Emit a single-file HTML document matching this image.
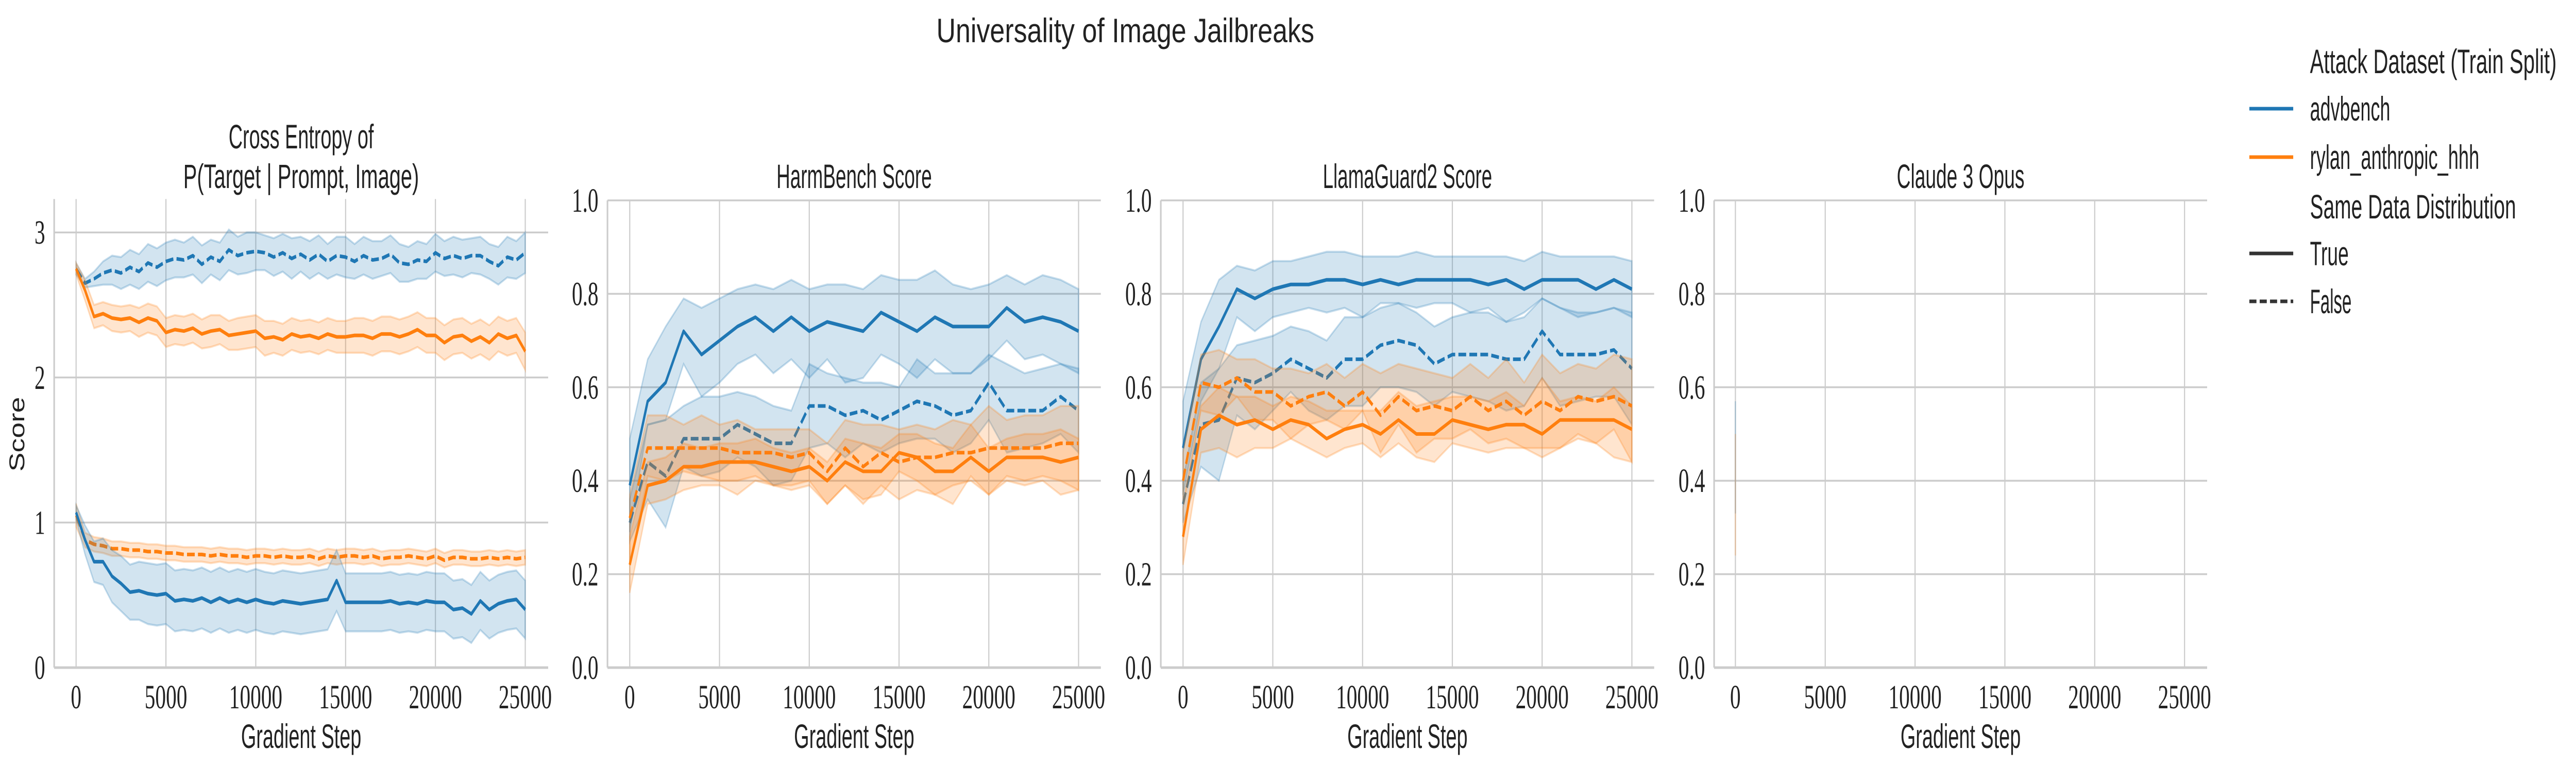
<!DOCTYPE html>
<html><head><meta charset="utf-8"><style>
html,body{margin:0;padding:0;background:#fff;overflow:hidden;width:100%;height:100%;}
svg{display:block;width:100vw;height:100vh;}
text{fill:#222;}
.tk{font-family:"Liberation Serif",serif;font-size:66px;}
.lb{font-family:"Liberation Sans Narrow","Liberation Sans",sans-serif;font-size:66px;}
</style></head><body>
<svg id="chart" viewBox="0 0 7989 1487" preserveAspectRatio="none" xmlns="http://www.w3.org/2000/svg">
<text x="3490" y="82" text-anchor="middle" class="lb" font-size="74" textLength="1172" lengthAdjust="spacingAndGlyphs">Universality of Image Jailbreaks</text>
<g>
<text x="7164" y="142" class="lb" textLength="765" lengthAdjust="spacingAndGlyphs">Attack Dataset (Train Split)</text>
<line x1="6976" y1="211" x2="7112" y2="211" stroke="#1f77b4" stroke-width="7"/>
<text x="7164" y="234" class="lb" textLength="249" lengthAdjust="spacingAndGlyphs">advbench</text>
<line x1="6976" y1="305" x2="7112" y2="305" stroke="#ff7f0e" stroke-width="7"/>
<text x="7164" y="328" class="lb" textLength="525" lengthAdjust="spacingAndGlyphs">rylan_anthropic_hhh</text>
<text x="7164" y="424" class="lb" textLength="639" lengthAdjust="spacingAndGlyphs">Same Data Distribution</text>
<line x1="6976" y1="492" x2="7112" y2="492" stroke="#333" stroke-width="7"/>
<text x="7164" y="515" class="lb" textLength="120" lengthAdjust="spacingAndGlyphs">True</text>
<line x1="6976" y1="585" x2="7112" y2="585" stroke="#333" stroke-width="7" stroke-dasharray="22,10"/>
<text x="7164" y="608" class="lb" textLength="129" lengthAdjust="spacingAndGlyphs">False</text>
</g>
</svg>
<script>
const steps51 = [];
for (let i = 0; i <= 50; i++) steps51.push(i * 500);
const steps26 = [];
for (let i = 0; i <= 25; i++) steps26.push(i * 1000);
const xTicks = [0, 5000, 10000, 15000, 20000, 25000];
const xTickLabels = ["0", "5000", "10000", "15000", "20000", "25000"];
const ceYTicks = [0, 1, 2, 3];
const ceYTickLabels = ["0", "1", "2", "3"];
const scoreYTicks = [0, 0.2, 0.4, 0.6, 0.8, 1.0];
const scoreYTickLabels = ["0.0", "0.2", "0.4", "0.6", "0.8", "1.0"];

// Panel 1: cross entropy
const ceAdvFalse = [2.75,2.65,2.68,2.72,2.74,2.72,2.76,2.73,2.79,2.76,2.80,2.82,2.81,2.84,2.78,2.83,2.80,2.88,2.84,2.86,2.87,2.86,2.83,2.86,2.82,2.85,2.81,2.85,2.80,2.84,2.83,2.80,2.84,2.81,2.82,2.85,2.79,2.78,2.81,2.80,2.86,2.82,2.84,2.82,2.84,2.84,2.80,2.77,2.83,2.81,2.86];
const ceAdvFalseCI = [0.04,0.03,0.05,0.08,0.10,0.11,0.12,0.12,0.13,0.13,0.13,0.13,0.12,0.13,0.13,0.12,0.13,0.14,0.13,0.14,0.13,0.12,0.13,0.13,0.14,0.12,0.13,0.13,0.12,0.13,0.14,0.12,0.13,0.13,0.12,0.13,0.13,0.12,0.13,0.12,0.13,0.12,0.13,0.13,0.12,0.13,0.12,0.13,0.14,0.13,0.14];
const ceRylTrue = [2.75,2.60,2.42,2.44,2.41,2.40,2.41,2.38,2.41,2.39,2.31,2.33,2.32,2.34,2.30,2.32,2.33,2.29,2.30,2.31,2.32,2.27,2.28,2.26,2.30,2.28,2.29,2.27,2.30,2.28,2.28,2.29,2.29,2.27,2.30,2.30,2.28,2.30,2.33,2.29,2.29,2.24,2.28,2.29,2.25,2.28,2.24,2.30,2.27,2.29,2.18];
const ceRylTrueCI = [0.04,0.07,0.08,0.08,0.09,0.09,0.09,0.10,0.10,0.10,0.10,0.10,0.10,0.10,0.10,0.11,0.10,0.10,0.11,0.11,0.11,0.12,0.11,0.11,0.11,0.11,0.11,0.11,0.11,0.11,0.11,0.12,0.12,0.12,0.12,0.12,0.12,0.12,0.12,0.12,0.12,0.12,0.12,0.12,0.12,0.12,0.12,0.12,0.12,0.12,0.13];
const ceRylFalse = [1.05,0.88,0.85,0.84,0.82,0.82,0.81,0.81,0.80,0.80,0.79,0.79,0.78,0.78,0.78,0.77,0.78,0.77,0.77,0.76,0.77,0.77,0.76,0.77,0.76,0.76,0.77,0.75,0.77,0.76,0.77,0.77,0.76,0.77,0.75,0.76,0.76,0.77,0.76,0.75,0.77,0.74,0.76,0.76,0.75,0.75,0.76,0.75,0.76,0.75,0.76];
const ceRylFalseCI = [0.08,0.05,0.05,0.05,0.05,0.05,0.05,0.05,0.05,0.05,0.05,0.05,0.05,0.05,0.05,0.05,0.05,0.05,0.05,0.05,0.05,0.05,0.05,0.05,0.05,0.05,0.05,0.05,0.05,0.05,0.05,0.05,0.05,0.05,0.05,0.05,0.05,0.05,0.05,0.05,0.05,0.05,0.05,0.05,0.05,0.05,0.05,0.05,0.05,0.05,0.05];
const ceAdvTrue = [1.07,0.88,0.73,0.73,0.63,0.58,0.52,0.53,0.51,0.50,0.51,0.46,0.47,0.46,0.48,0.45,0.48,0.45,0.47,0.45,0.47,0.45,0.44,0.46,0.45,0.44,0.45,0.46,0.47,0.60,0.45,0.45,0.45,0.45,0.45,0.46,0.44,0.45,0.44,0.46,0.45,0.45,0.40,0.41,0.37,0.46,0.40,0.44,0.46,0.47,0.40];
const ceAdvTrueCI = [0.05,0.10,0.14,0.16,0.18,0.19,0.19,0.20,0.21,0.21,0.21,0.21,0.21,0.21,0.21,0.21,0.21,0.21,0.21,0.21,0.21,0.21,0.21,0.21,0.21,0.21,0.21,0.21,0.21,0.21,0.20,0.20,0.20,0.20,0.20,0.20,0.20,0.20,0.20,0.20,0.20,0.20,0.20,0.20,0.20,0.20,0.20,0.20,0.20,0.20,0.20];

// Panel 2: HarmBench
const hbAdvTrue = [0.39,0.57,0.61,0.72,0.67,0.70,0.73,0.75,0.72,0.75,0.72,0.74,0.73,0.72,0.76,0.74,0.72,0.75,0.73,0.73,0.73,0.77,0.74,0.75,0.74,0.72];
const hbAdvTrueHi = [0.49,0.66,0.73,0.79,0.77,0.79,0.81,0.82,0.81,0.83,0.81,0.82,0.82,0.81,0.84,0.83,0.83,0.85,0.82,0.81,0.82,0.84,0.82,0.84,0.83,0.81];
const hbAdvTrueLo = [0.29,0.52,0.53,0.65,0.58,0.61,0.65,0.67,0.63,0.66,0.62,0.66,0.61,0.62,0.67,0.65,0.62,0.66,0.63,0.63,0.66,0.70,0.66,0.67,0.65,0.63];
const hbAdvFalse = [0.31,0.44,0.41,0.49,0.49,0.49,0.52,0.50,0.48,0.48,0.56,0.56,0.54,0.55,0.53,0.55,0.57,0.56,0.54,0.55,0.61,0.55,0.55,0.55,0.58,0.55];
const hbAdvFalseHi = [0.36,0.52,0.53,0.56,0.58,0.58,0.59,0.58,0.56,0.55,0.65,0.63,0.62,0.61,0.61,0.60,0.66,0.63,0.63,0.63,0.67,0.65,0.63,0.64,0.65,0.64];
const hbAdvFalseLo = [0.27,0.36,0.30,0.43,0.41,0.42,0.45,0.43,0.39,0.40,0.47,0.48,0.45,0.48,0.46,0.48,0.49,0.49,0.46,0.48,0.53,0.46,0.47,0.48,0.50,0.46];
const hbRylFalse = [0.32,0.47,0.47,0.47,0.47,0.47,0.46,0.46,0.46,0.45,0.46,0.42,0.47,0.43,0.46,0.44,0.45,0.45,0.46,0.46,0.47,0.47,0.47,0.47,0.48,0.48];
const hbRylFalseHi = [0.37,0.54,0.54,0.52,0.54,0.52,0.53,0.51,0.51,0.51,0.51,0.48,0.53,0.52,0.52,0.51,0.52,0.51,0.53,0.52,0.56,0.53,0.54,0.54,0.56,0.56];
const hbRylFalseLo = [0.22,0.41,0.40,0.42,0.41,0.40,0.40,0.41,0.39,0.39,0.40,0.35,0.39,0.35,0.39,0.36,0.38,0.37,0.39,0.40,0.37,0.41,0.40,0.41,0.40,0.38];
const hbRylTrue = [0.22,0.39,0.40,0.43,0.43,0.44,0.44,0.44,0.43,0.42,0.43,0.40,0.44,0.42,0.42,0.46,0.45,0.42,0.42,0.45,0.42,0.45,0.45,0.45,0.44,0.45];
const hbRylTrueHi = [0.28,0.44,0.45,0.48,0.47,0.48,0.48,0.49,0.47,0.46,0.47,0.44,0.49,0.48,0.47,0.50,0.50,0.48,0.47,0.52,0.47,0.49,0.50,0.50,0.51,0.49];
const hbRylTrueLo = [0.16,0.35,0.36,0.38,0.39,0.39,0.37,0.40,0.39,0.38,0.39,0.35,0.39,0.36,0.37,0.42,0.40,0.37,0.35,0.41,0.37,0.40,0.39,0.40,0.37,0.38];

// Panel 3: LlamaGuard2
const lgAdvTrue = [0.47,0.66,0.73,0.81,0.79,0.81,0.82,0.82,0.83,0.83,0.82,0.83,0.82,0.83,0.83,0.83,0.83,0.82,0.83,0.81,0.83,0.83,0.83,0.81,0.83,0.81];
const lgAdvTrueHi = [0.57,0.74,0.83,0.86,0.85,0.87,0.87,0.88,0.89,0.89,0.88,0.88,0.88,0.89,0.88,0.88,0.88,0.88,0.88,0.87,0.89,0.88,0.88,0.88,0.88,0.87];
const lgAdvTrueLo = [0.37,0.57,0.64,0.75,0.72,0.75,0.76,0.77,0.76,0.77,0.75,0.78,0.78,0.77,0.78,0.78,0.76,0.77,0.74,0.76,0.79,0.77,0.75,0.76,0.77,0.75];
const lgAdvFalse = [0.35,0.52,0.53,0.62,0.61,0.63,0.66,0.64,0.62,0.66,0.66,0.69,0.70,0.69,0.65,0.67,0.67,0.67,0.66,0.66,0.72,0.67,0.67,0.67,0.68,0.64];
const lgAdvFalseHi = [0.40,0.61,0.64,0.69,0.70,0.71,0.73,0.72,0.70,0.75,0.75,0.77,0.78,0.76,0.73,0.75,0.76,0.76,0.74,0.75,0.79,0.77,0.76,0.76,0.77,0.76];
const lgAdvFalseLo = [0.31,0.43,0.40,0.54,0.51,0.55,0.59,0.55,0.53,0.56,0.56,0.60,0.60,0.59,0.56,0.59,0.58,0.57,0.55,0.56,0.62,0.56,0.57,0.58,0.58,0.52];
const lgRylFalse = [0.40,0.61,0.60,0.62,0.59,0.59,0.56,0.58,0.59,0.56,0.59,0.54,0.58,0.55,0.56,0.55,0.58,0.55,0.57,0.54,0.57,0.55,0.58,0.57,0.58,0.56];
const lgRylFalseHi = [0.46,0.67,0.68,0.66,0.66,0.64,0.64,0.63,0.65,0.62,0.65,0.63,0.65,0.64,0.63,0.62,0.65,0.62,0.66,0.61,0.67,0.63,0.65,0.64,0.67,0.66];
const lgRylFalseLo = [0.35,0.55,0.54,0.58,0.53,0.53,0.49,0.52,0.53,0.51,0.55,0.46,0.52,0.46,0.49,0.49,0.51,0.48,0.49,0.47,0.47,0.47,0.50,0.48,0.51,0.44];
const lgRylTrue = [0.28,0.51,0.54,0.52,0.53,0.51,0.53,0.52,0.49,0.51,0.52,0.50,0.53,0.50,0.50,0.53,0.52,0.51,0.52,0.52,0.50,0.53,0.53,0.53,0.53,0.51];
const lgRylTrueHi = [0.34,0.56,0.60,0.58,0.58,0.56,0.58,0.57,0.55,0.55,0.55,0.55,0.59,0.56,0.57,0.58,0.58,0.57,0.59,0.56,0.62,0.57,0.58,0.57,0.60,0.56];
const lgRylTrueLo = [0.22,0.46,0.47,0.45,0.47,0.47,0.49,0.47,0.45,0.47,0.48,0.45,0.48,0.45,0.44,0.48,0.47,0.46,0.47,0.47,0.45,0.47,0.49,0.48,0.45,0.44];

// Panel 4: Claude 3 Opus (only step 0)
const opSteps = [0];
const opAdvTrue = [0.47];
const opAdvHi = [0.57];
const opAdvLo = [0.33];
const opRylTrue = [0.37];
const opRylHi = [0.50];
const opRylLo = [0.24];

const NS = "http://www.w3.org/2000/svg";
const svg = document.getElementById("chart");
function mk(tag, attrs, parent) {
  const e = document.createElementNS(NS, tag);
  for (const k in attrs) e.setAttribute(k, attrs[k]);
  (parent || svg).appendChild(e);
  return e;
}
const BLUE = "#1f77b4", ORANGE = "#ff7f0e";

function panel(cfg) {
  const g = mk("g", {});
  
  
  const xs = v => cfg.x0 + v * (cfg.x25 - cfg.x0) / 25000;
  const ys = v => cfg.yb - v * cfg.ppu;
  const yTop = cfg.yb - cfg.ymax * cfg.ppu;
  cfg.yTicks.forEach((t, i) => {
    const l = mk("line", {x1: cfg.left, x2: cfg.right, y1: ys(t), y2: ys(t), stroke: "#cccccc", "stroke-width": 3.5}, g);
    
    
    const tx = mk("text", {x: cfg.left - 28, y: ys(t) + 22, "text-anchor": "end", class: "tk"}, g);
    tx.textContent = cfg.yLabels[i];
    
    
  });
  xTicks.forEach((t, i) => {
    const l = mk("line", {x1: xs(t), x2: xs(t), y1: yTop, y2: cfg.yb, stroke: "#cccccc", "stroke-width": 3.5}, g);
    
    
    const tx = mk("text", {x: xs(t), y: 1375, "text-anchor": "middle", class: "tk"}, g);
    tx.textContent = xTickLabels[i];
    
    
  });
  const sl = mk("line", {x1: cfg.left, x2: cfg.left, y1: yTop, y2: cfg.yb, stroke: "#cccccc", "stroke-width": 5}, g);
  
  
  const sb = mk("line", {x1: cfg.left, x2: cfg.right, y1: cfg.yb, y2: cfg.yb, stroke: "#cccccc", "stroke-width": 5}, g);
  
  
  cfg.series.forEach(s => {
    let up = "", lo = "";
    s.x.forEach((v, i) => { up += (i ? "L" : "M") + xs(v) + "," + ys(s.hi[i]); });
    for (let i = s.x.length - 1; i >= 0; i--) lo += "L" + xs(s.x[i]) + "," + ys(s.lo[i]);
    const band = mk("path", {d: up + lo + "Z", fill: s.color, "fill-opacity": 0.2, stroke: s.color, "stroke-opacity": 0.25, "stroke-width": 4}, g);
    
    
    let d = "";
    s.x.forEach((v, i) => { d += (i ? "L" : "M") + xs(v) + "," + ys(s.y[i]); });
    if (s.x.length > 1) {
      const ln = mk("path", {d: d, fill: "none", stroke: s.color, "stroke-width": 7, "stroke-linejoin": "round", "stroke-dasharray": s.dash ? "24,10" : "none"}, g);
      
      
    }
  });
  cfg.title.forEach((t, i) => {
    const tx = mk("text", {x: (cfg.left + cfg.right) / 2, y: cfg.titleY - (cfg.title.length - 1 - i) * 77, "text-anchor": "middle", class: "lb", textLength: cfg.titleLen[i], lengthAdjust: "spacingAndGlyphs"}, g);
    tx.textContent = t;
    
    
  });
  const xl = mk("text", {x: (cfg.left + cfg.right) / 2, y: 1452, "text-anchor": "middle", class: "lb", textLength: 373, lengthAdjust: "spacingAndGlyphs"}, g);
  xl.textContent = "Gradient Step";
  
  
}

function ciSeries(name, x, y, ci, color, dash) {
  return {name, x, y, hi: y.map((v, i) => v + ci[i]), lo: y.map((v, i) => v - ci[i]), color, dash};
}

panel({name: "cross-entropy-panel", left: 168, right: 1700, x0: 236, x25: 1629, yb: 1296, ppu: 281.6, ymax: 3.23,
  yTicks: ceYTicks, yLabels: ceYTickLabels, titleY: 365, title: ["Cross Entropy of", "P(Target | Prompt, Image)"], titleLen: [450, 731],
  series: [
    ciSeries("ce-advbench-false", steps51, ceAdvFalse, ceAdvFalseCI, BLUE, true),
    ciSeries("ce-rylan-true", steps51, ceRylTrue, ceRylTrueCI, ORANGE, false),
    ciSeries("ce-rylan-false", steps51, ceRylFalse, ceRylFalseCI, ORANGE, true),
    ciSeries("ce-advbench-true", steps51, ceAdvTrue, ceAdvTrueCI, BLUE, false)
  ]});
panel({name: "harmbench-panel", left: 1884, right: 3414, x0: 1953, x25: 3345, yb: 1296, ppu: 907, ymax: 1.0,
  yTicks: scoreYTicks, yLabels: scoreYTickLabels, titleY: 365, title: ["HarmBench Score"], titleLen: [482],
  series: [
    {name: "hb-advbench-true", x: steps26, y: hbAdvTrue, hi: hbAdvTrueHi, lo: hbAdvTrueLo, color: BLUE, dash: false},
    {name: "hb-advbench-false", x: steps26, y: hbAdvFalse, hi: hbAdvFalseHi, lo: hbAdvFalseLo, color: BLUE, dash: true},
    {name: "hb-rylan-false", x: steps26, y: hbRylFalse, hi: hbRylFalseHi, lo: hbRylFalseLo, color: ORANGE, dash: true},
    {name: "hb-rylan-true", x: steps26, y: hbRylTrue, hi: hbRylTrueHi, lo: hbRylTrueLo, color: ORANGE, dash: false}
  ]});
panel({name: "llamaguard-panel", left: 3600, right: 5130, x0: 3669, x25: 5061, yb: 1296, ppu: 907, ymax: 1.0,
  yTicks: scoreYTicks, yLabels: scoreYTickLabels, titleY: 365, title: ["LlamaGuard2 Score"], titleLen: [525],
  series: [
    {name: "lg-advbench-true", x: steps26, y: lgAdvTrue, hi: lgAdvTrueHi, lo: lgAdvTrueLo, color: BLUE, dash: false},
    {name: "lg-advbench-false", x: steps26, y: lgAdvFalse, hi: lgAdvFalseHi, lo: lgAdvFalseLo, color: BLUE, dash: true},
    {name: "lg-rylan-false", x: steps26, y: lgRylFalse, hi: lgRylFalseHi, lo: lgRylFalseLo, color: ORANGE, dash: true},
    {name: "lg-rylan-true", x: steps26, y: lgRylTrue, hi: lgRylTrueHi, lo: lgRylTrueLo, color: ORANGE, dash: false}
  ]});
panel({name: "claude-opus-panel", left: 5316, right: 6845, x0: 5382, x25: 6775, yb: 1296, ppu: 907, ymax: 1.0,
  yTicks: scoreYTicks, yLabels: scoreYTickLabels, titleY: 365, title: ["Claude 3 Opus"], titleLen: [396],
  series: [
    {name: "op-advbench-true", x: opSteps, y: opAdvTrue, hi: opAdvHi, lo: opAdvLo, color: BLUE, dash: false},
    {name: "op-rylan-true", x: opSteps, y: opRylTrue, hi: opRylHi, lo: opRylLo, color: ORANGE, dash: false}
  ]});

const yl = mk("text", {x: 0, y: 0, "text-anchor": "middle", class: "lb", textLength: 145, lengthAdjust: "spacingAndGlyphs", transform: "translate(75,843) rotate(-90)"});
yl.textContent = "Score";


</script>
</body></html>
